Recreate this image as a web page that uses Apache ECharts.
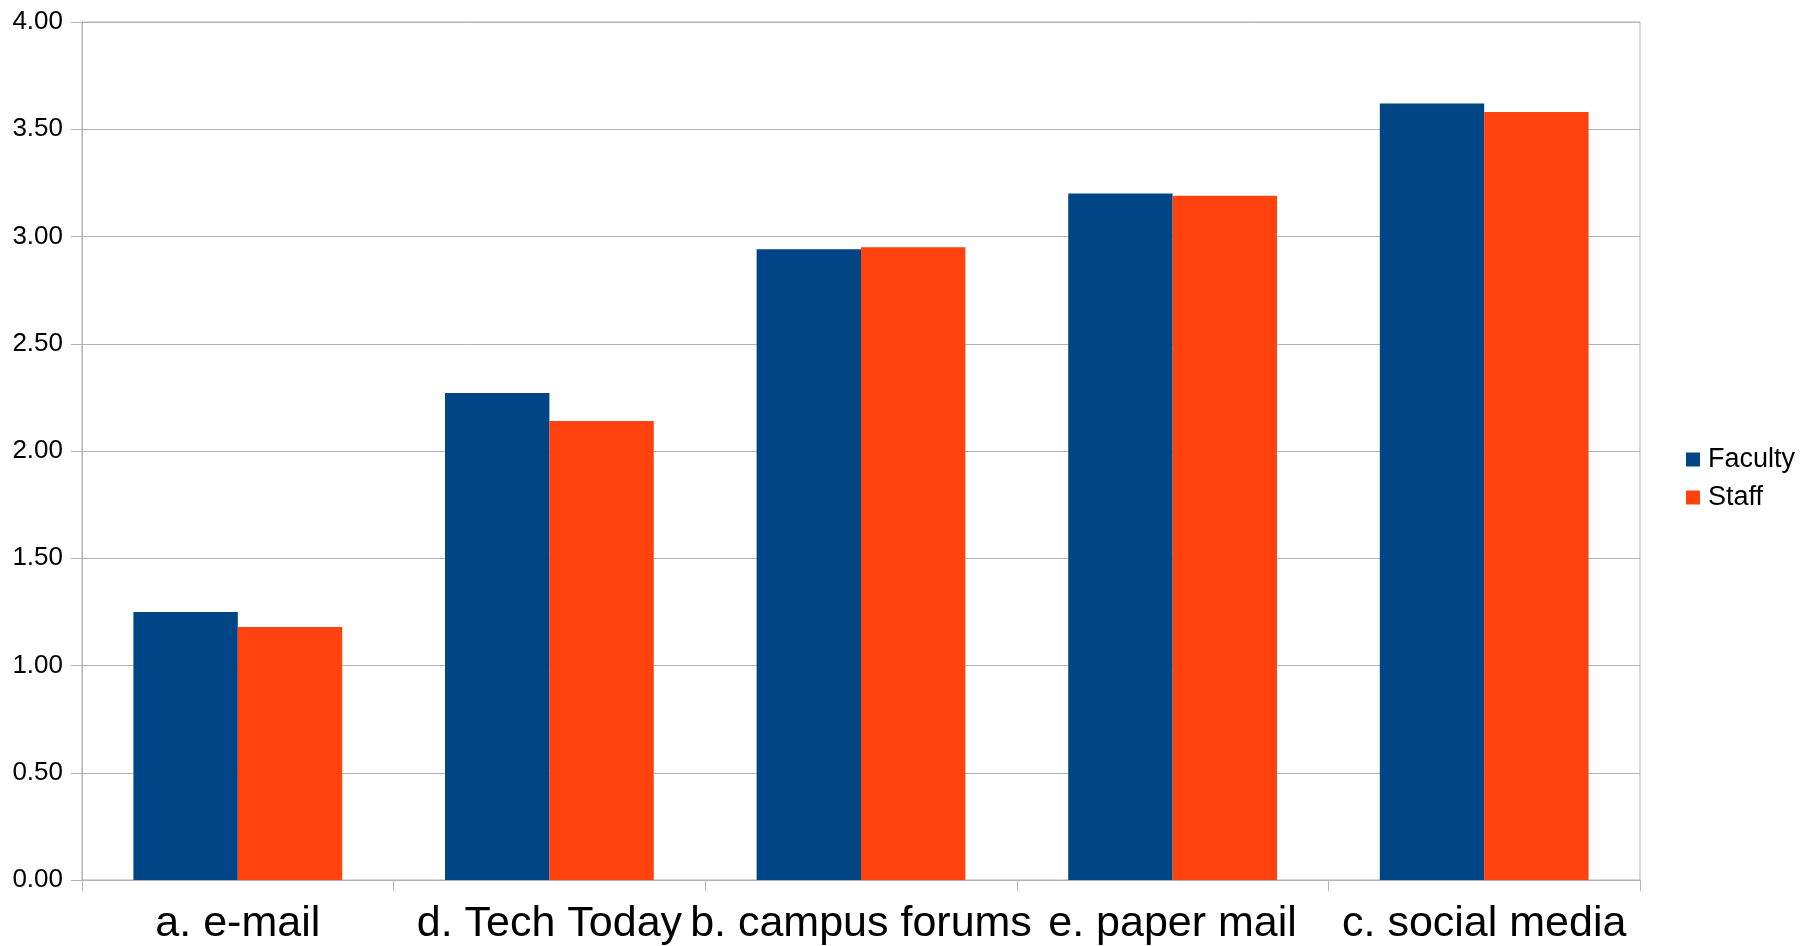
<!DOCTYPE html>
<html>
<head>
<meta charset="utf-8">
<script src="https://cdn.jsdelivr.net/npm/echarts@6/dist/echarts.min.js"></script>
<style>
html,body{margin:0;padding:0;background:#fff;}
#chart{width:1809px;height:946px;}
</style>
</head>
<body>
<div id="chart"></div>
<script>
const categories = ['a. e-mail', 'd. Tech Today', 'b. campus forums', 'e. paper mail', 'c. social media'];
const faculty = [1.25, 2.27, 2.94, 3.20, 3.62];
const staff = [1.18, 2.14, 2.95, 3.19, 3.58];
const seriesNames = ['Faculty', 'Staff'];
const colors = ['#004586', '#ff420e'];

const chart = echarts.init(document.getElementById('chart'));
const font = '"Liberation Sans", Arial, sans-serif';
chart.setOption({
  animation: false,
  textStyle: { fontFamily: font },
  grid: { left: 82, right: 169, top: 22, bottom: 64, show: true, borderColor: '#b3b3b3', borderWidth: 1, containLabel: false },
  legend: {
    orient: 'vertical',
    left: 1686,
    top: 446,
    padding: 0,
    itemWidth: 14,
    itemHeight: 14,
    itemGap: 11,
    icon: 'rect',
    data: seriesNames,
    textStyle: { fontFamily: font, fontSize: 27, color: '#000', lineHeight: 27, padding: [0, 0, 0, 3] }
  },
  xAxis: {
    type: 'category',
    data: categories,
    axisLine: { lineStyle: { color: '#b3b3b3', width: 1 } },
    axisTick: { show: true, length: 11, alignWithLabel: false, lineStyle: { color: '#b3b3b3' } },
    axisLabel: { interval: 0, fontSize: 43, color: '#000', fontFamily: font, margin: 23 },
    splitLine: { show: false }
  },
  yAxis: {
    type: 'value',
    min: 0,
    max: 4,
    interval: 0.5,
    axisLine: { show: true, lineStyle: { color: '#b3b3b3', width: 1 } },
    axisTick: { show: true, length: 11, lineStyle: { color: '#b3b3b3' } },
    axisLabel: { fontSize: 26, color: '#000', fontFamily: font, margin: 19, formatter: v => v.toFixed(2) },
    splitLine: { show: true, lineStyle: { color: '#b3b3b3', width: 1 } }
  },
  series: [
    { name: seriesNames[0], type: 'bar', data: faculty, itemStyle: { color: colors[0] }, barGap: '0%', barCategoryGap: '33%' },
    { name: seriesNames[1], type: 'bar', data: staff, itemStyle: { color: colors[1] }, barGap: '0%', barCategoryGap: '33%' }
  ]
});
</script>
</body>
</html>
